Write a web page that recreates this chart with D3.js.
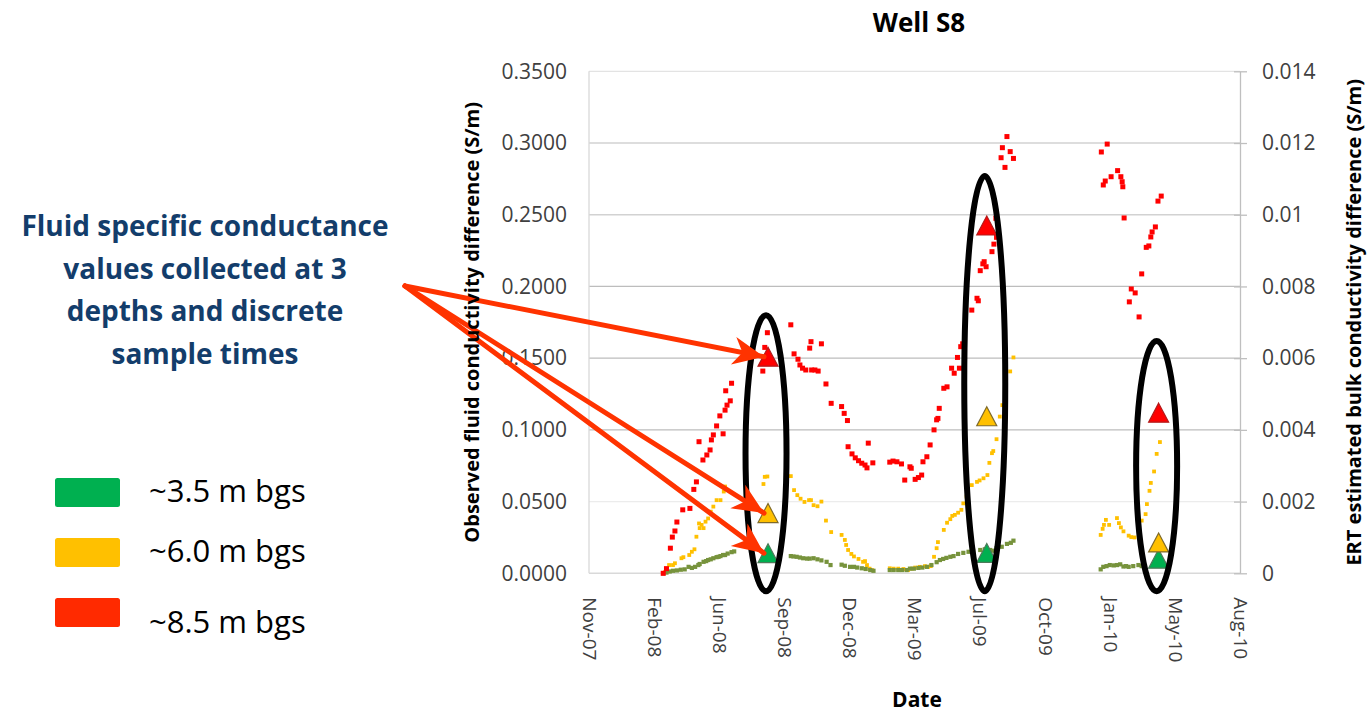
<!DOCTYPE html>
<html>
<head>
<meta charset="utf-8">
<script src="https://cdn.jsdelivr.net/npm/d3@7/dist/d3.min.js"></script>
<style>
  html, body { margin: 0; padding: 0; background: #fff; }
  svg { display: block; }
  text { font-family: "Open Sans", "Noto Sans", sans-serif; }
</style>
</head>
<body>
<svg id="chart" width="1368" height="712"></svg>
<script>
// ---- Data (dates are spreadsheet serial day numbers) ----

// Continuous ERT estimates, bulk conductivity difference (S/m), right axis
const ert35 = [
  [39514,0.00000],[39519,0.00002],[39524,0.00005],[39529,0.00007],[39535,0.00008],[39541,0.00010],
  [39547,0.00011],[39553,0.00018],[39558,0.00015],[39563,0.00018],[39568,0.00023],[39570,0.00026],
  [39576,0.00032],[39580,0.00034],[39583,0.00037],[39587,0.00039],[39591,0.00042],[39596,0.00045],
  [39599,0.00046],[39602,0.00048],[39606,0.00051],[39609,0.00051],[39613,0.00055],[39619,0.00059],
  [39623,0.00061],
  [39710,0.00048],[39714,0.00047],[39719,0.00046],[39724,0.00044],[39729,0.00042],[39735,0.00041],
  [39739,0.00041],[39745,0.00042],[39751,0.00039],[39757,0.00036],[39765,0.00032],[39771,0.00023],
  [39788,0.00024],[39793,0.00021],[39801,0.00018],[39807,0.00018],[39812,0.00016],[39819,0.00014],
  [39825,0.00012],[39832,0.00009],[39837,0.00007],
  [39862,0.00009],[39868,0.00009],[39875,0.00009],[39881,0.00009],[39888,0.00009],[39893,0.00013],
  [39899,0.00013],[39906,0.00015],[39912,0.00016],[39919,0.00018],[39926,0.00023],[39934,0.00031],
  [39939,0.00037],[39944,0.00040],[39949,0.00043],[39955,0.00046],[39960,0.00048],[39967,0.00054],
  [39975,0.00057],[39983,0.00060],[39990,0.00063],[40001,0.00065],[40008,0.00067],[40016,0.00065],
  [40021,0.00063],[40026,0.00070],[40034,0.00074],[40042,0.00082],[40048,0.00085],[40052,0.00091],
  [40186,0.00011],[40190,0.00018],[40195,0.00020],[40200,0.00023],[40206,0.00022],[40211,0.00023],
  [40216,0.00025],[40221,0.00019],[40225,0.00020],[40229,0.00018],[40236,0.00020],[40244,0.00023],
  [40249,0.00020],[40254,0.00020]
];

const ert60 = [
  [39517,0.00004],[39523,0.00023],[39529,0.00023],[39532,0.00028],[39542,0.00042],[39545,0.00045],
  [39554,0.00051],[39558,0.00060],[39562,0.00067],[39565,0.00102],[39569,0.00139],[39570,0.00126],
  [39573,0.00135],[39576,0.00126],[39579,0.00144],[39583,0.00153],[39587,0.00172],[39591,0.00186],
  [39596,0.00204],[39602,0.00204],[39607,0.00228],[39609,0.00242],
  [39668,0.00249],[39670,0.00269],[39674,0.00270],
  [39710,0.00271],[39715,0.00232],[39720,0.00218],[39725,0.00208],[39731,0.00199],[39738,0.00204],
  [39741,0.00204],[39745,0.00190],[39751,0.00187],[39757,0.00200],[39764,0.00147],[39772,0.00115],
  [39788,0.00107],[39793,0.00093],[39795,0.00079],[39798,0.00065],[39803,0.00054],[39807,0.00047],
  [39814,0.00040],[39821,0.00032],[39824,0.00034],[39827,0.00023],[39831,0.00013],[39835,0.00009],
  [39862,0.00014],[39868,0.00013],[39875,0.00013],[39883,0.00012],[39890,0.00009],[39896,0.00013],
  [39901,0.00016],[39908,0.00018],[39916,0.00020],[39921,0.00018],[39925,0.00020],
  [39930,0.00046],[39934,0.00070],[39936,0.00087],[39945,0.00121],[39950,0.00141],[39955,0.00151],
  [39958,0.00160],[39962,0.00163],[39967,0.00169],[39972,0.00177],[39975,0.00195],[39980,0.00214],
  [39981,0.00223],[39988,0.00246],[39996,0.00255],[40000,0.00259],[40006,0.00265],[40012,0.00274],
  [40015,0.00308],[40019,0.00335],[40021,0.00341],[40026,0.00374],[40031,0.00437],[40035,0.00469],
  [40047,0.00563],[40052,0.00602],
  [40186,0.00107],[40189,0.00124],[40191,0.00135],[40194,0.00149],[40199,0.00135],[40211,0.00154],
  [40214,0.00140],[40217,0.00128],[40221,0.00117],[40229,0.00105],[40233,0.00101],[40238,0.00100],
  [40249,0.00147],[40255,0.00165],[40257,0.00193],[40261,0.00230],[40263,0.00252],[40268,0.00284],
  [40272,0.00333],[40277,0.00366]
];

const ert85 = [
  [39514,0.00000],[39519,0.00013],[39525,0.00070],[39528,0.00101],[39532,0.00118],[39535,0.00143],
  [39544,0.00177],[39555,0.00181],[39561,0.00234],[39565,0.00255],[39569,0.00367],[39575,0.00316],
  [39581,0.00330],[39586,0.00344],[39588,0.00372],[39591,0.00386],[39596,0.00411],[39601,0.00439],
  [39606,0.00389],[39609,0.00455],[39610,0.00509],[39612,0.00469],[39617,0.00481],[39619,0.00530],
  [39645,0.00536],[39667,0.00564],[39670,0.00630],[39674,0.00671],[39710,0.00693],
  [39715,0.00612],[39721,0.00597],[39724,0.00581],[39728,0.00572],[39733,0.00567],[39739,0.00628],
  [39741,0.00646],[39742,0.00567],[39747,0.00567],[39752,0.00564],[39757,0.00640],[39764,0.00528],
  [39772,0.00474],[39788,0.00465],[39792,0.00446],[39797,0.00426],[39798,0.00353],[39804,0.00333],
  [39809,0.00322],[39814,0.00314],[39819,0.00307],[39824,0.00302],[39827,0.00294],[39829,0.00363],
  [39836,0.00308],[39862,0.00310],[39867,0.00313],[39873,0.00311],[39880,0.00305],[39885,0.00260],
  [39893,0.00297],[39895,0.00293],[39901,0.00262],[39906,0.00267],[39911,0.00274],[39913,0.00311],
  [39919,0.00325],[39924,0.00358],[39930,0.00400],[39934,0.00428],[39936,0.00432],[39938,0.00460],
  [39945,0.00516],[39950,0.00520],[39957,0.00572],[39961,0.00558],[39966,0.00602],[39969,0.00572],
  [39971,0.00632],[39974,0.00640],[39988,0.00734],[39996,0.00767],[39998,0.00760],[40001,0.00844],
  [40005,0.00863],[40007,0.00869],[40010,0.00855],[40019,0.00897],[40022,0.00918],[40025,0.00990],
  [40026,0.00937],[40033,0.01159],[40035,0.01187],[40039,0.01132],[40042,0.01218],[40047,0.01176],
  [40052,0.01157],
  [40187,0.01175],[40190,0.01083],[40193,0.01094],[40196,0.01197],[40202,0.01106],[40212,0.01123],
  [40217,0.01106],[40219,0.01092],[40220,0.01078],[40222,0.00991],[40230,0.00757],[40233,0.00793],
  [40239,0.00782],[40245,0.00715],[40249,0.00835],[40256,0.00909],[40260,0.00913],[40263,0.00938],
  [40265,0.00952],[40270,0.00966],[40274,0.01038],[40279,0.01052]
];

// Discrete fluid samples, observed fluid conductivity difference (S/m), left axis
const sampleDates = [39675, 40011, 40275];
const sample35 = [0.0140, 0.0142, 0.0102];
const sample60 = [0.0420, 0.1095, 0.0215];
const sample85 = [0.1510, 0.2425, 0.1120];

// Axis ticks
const xTickSerials = [39400, 39500, 39600, 39700, 39800, 39900, 40000, 40100, 40200, 40300, 40400];
const yLeftTicks = [0, 0.05, 0.10, 0.15, 0.20, 0.25, 0.30, 0.35];
const yRightTicks = [0, 0.002, 0.004, 0.006, 0.008, 0.010, 0.012, 0.014];
const yRightLabels = ["0", "0.002", "0.004", "0.006", "0.008", "0.01", "0.012", "0.014"];

// Legend and annotation text
const depthLabels = ["~3.5 m bgs", "~6.0 m bgs", "~8.5 m bgs"];
const noteLines = ["Fluid specific conductance", "values collected at 3", "depths and discrete", "sample times"];
// Ellipse extents around each sampling time (left-axis units)
const ringTop = [0.180, 0.277, 0.162];
const ringBottom = -0.0125;

// ---- Layout ----
const svg = d3.select("#chart");
const plot = { left: 589, right: 1240, top: 71.3, bottom: 573.3 };
const excelEpoch = Date.UTC(1899, 11, 30);
const fromSerial = s => new Date(excelEpoch + s * 864e5);

const x = d3.scaleUtc()
  .domain([fromSerial(39400), fromSerial(40400)])
  .range([plot.left, plot.right]);
const yL = d3.scaleLinear().domain([0, 0.35]).range([plot.bottom, plot.top]);
const yR = d3.scaleLinear().domain([0, 0.014]).range([plot.bottom, plot.top]);

const colors = {
  shallow: "#77933c", mid: "#ffc000", deep: "#ff0000",
  legendGreen: "#00b050", legendYellow: "#ffc000", legendRed: "#ff2a00",
  arrow: "#ff3300", note: "#133d6b"
};

// Gridlines
const gridShade = v => (v === 0.05 ? "#ececec" : (v >= 0.25 ? "#d2d2d2" : "#bdbdbd"));
svg.append("g").selectAll("line")
  .data(yLeftTicks.filter(v => v > 0 && v < 0.35))
  .join("line")
  .attr("x1", plot.left).attr("x2", plot.right)
  .attr("y1", d => yL(d)).attr("y2", d => yL(d))
  .attr("stroke", d => gridShade(+d.toFixed(2))).attr("stroke-width", 1.3);

// Plot frame: top, left, bottom
svg.append("line").attr("x1", plot.left).attr("x2", plot.right)
  .attr("y1", yL(0.35)).attr("y2", yL(0.35)).attr("stroke", "#e3e3e3").attr("stroke-width", 1.3);
svg.append("line").attr("x1", plot.left).attr("x2", plot.left)
  .attr("y1", plot.top).attr("y2", plot.bottom).attr("stroke", "#d9d9d9").attr("stroke-width", 1.3);
svg.append("line").attr("x1", plot.left).attr("x2", plot.right)
  .attr("y1", plot.bottom).attr("y2", plot.bottom).attr("stroke", "#d9d9d9").attr("stroke-width", 1.5);

// Left axis labels
const leftAxis = svg.append("g")
  .attr("transform", `translate(${plot.left},0)`)
  .call(d3.axisLeft(yL).tickValues(yLeftTicks).tickFormat(d3.format(".4f")).tickSize(0).tickPadding(22));
leftAxis.select(".domain").remove();
leftAxis.selectAll("text").attr("font-size", 21).attr("fill", "#404040")
  .attr("font-family", "Open Sans");

// Right axis with crossing ticks
const rightAxis = svg.append("g")
  .attr("transform", `translate(${plot.right},0)`)
  .call(d3.axisRight(yR).tickValues(yRightTicks).tickFormat((d, i) => yRightLabels[i]).tickSizeInner(7).tickSizeOuter(0).tickPadding(15));
rightAxis.select(".domain").attr("stroke", "#bfbfbf").attr("stroke-width", 1.3);
rightAxis.selectAll(".tick line").attr("stroke", "#bfbfbf").attr("stroke-width", 1.3).attr("x1", -6);
rightAxis.selectAll("text").attr("font-size", 21).attr("fill", "#404040")
  .attr("font-family", "Open Sans");

// Bottom axis, labels rotated to read downward
const bottomAxis = svg.append("g")
  .attr("transform", `translate(0,${plot.bottom})`)
  .call(d3.axisBottom(x).tickValues(xTickSerials.map(fromSerial)).tickFormat(d3.utcFormat("%b-%y")).tickSize(0));
bottomAxis.select(".domain").remove();
bottomAxis.selectAll("text")
  .attr("transform", "rotate(90)")
  .attr("x", 24).attr("y", 0).attr("dy", "0.35em")
  .attr("text-anchor", "start")
  .attr("font-size", 19).attr("fill", "#404040")
  .attr("font-family", "Open Sans");

// ERT series (small squares)
function drawSquares(data, color, size) {
  svg.append("g").selectAll("rect")
    .data(data)
    .join("rect")
    .attr("x", d => x(fromSerial(d[0])) - size / 2)
    .attr("y", d => yR(d[1]) - size / 2)
    .attr("width", size).attr("height", size)
    .attr("fill", color);
}
drawSquares(ert60, colors.mid, 3.8);
drawSquares(ert35, colors.shallow, 4.2);
drawSquares(ert85, colors.deep, 5);

// Fluid sample triangles
const tri = "M0,-9.5L10,9.5L-10,9.5Z";
function drawTriangles(values, fill, stroke) {
  svg.append("g").selectAll("path")
    .data(values.map((v, i) => [sampleDates[i], v]))
    .join("path")
    .attr("d", tri)
    .attr("transform", d => `translate(${x(fromSerial(d[0]))},${yL(d[1])})`)
    .attr("fill", fill).attr("stroke", stroke).attr("stroke-width", 1.2);
}
drawTriangles(sample35, "#00b050", "#4d7a5a");
drawTriangles(sample60, "#ffc000", "#7f6a2a");
drawTriangles(sample85, "#ff0000", "#b31a1a");

// Rings around each sampling time
svg.append("g").selectAll("ellipse")
  .data(sampleDates.map((s, i) => ({ s, top: ringTop[i] })))
  .join("ellipse")
  .attr("cx", d => x(fromSerial(d.s)) - 2)
  .attr("cy", d => (yL(d.top) + yL(ringBottom)) / 2)
  .attr("rx", 20.5)
  .attr("ry", d => (yL(ringBottom) - yL(d.top)) / 2)
  .attr("fill", "none").attr("stroke", "#000").attr("stroke-width", 6);

// Callout arrows from the note to the first set of samples
const defs = svg.append("defs");
defs.append("marker")
  .attr("id", "stealth")
  .attr("markerUnits", "userSpaceOnUse")
  .attr("viewBox", "-32 -16 34 32")
  .attr("refX", 0).attr("refY", 0)
  .attr("markerWidth", 34).attr("markerHeight", 32)
  .attr("orient", "auto")
  .append("path")
  .attr("d", "M0,0L-31,-14L-22,0L-31,14Z")
  .attr("fill", colors.arrow);

const arrowFrom = [405, 286];
const firstTargets = [sample85[0], sample60[0], sample35[0]];
svg.append("g").selectAll("line")
  .data(firstTargets)
  .join("line")
  .attr("x1", arrowFrom[0]).attr("y1", arrowFrom[1])
  .attr("x2", x(fromSerial(sampleDates[0])) - 4)
  .attr("y2", d => yL(d))
  .attr("stroke", colors.arrow).attr("stroke-width", 5)
  .attr("stroke-linecap", "round")
  .attr("marker-end", "url(#stealth)");

// Titles
svg.append("text").attr("x", 919).attr("y", 32)
  .attr("text-anchor", "middle").attr("font-weight", "bold").attr("font-size", 26)
  .attr("fill", "#000").text("Well S8");

svg.append("text").attr("x", 917).attr("y", 707)
  .attr("text-anchor", "middle").attr("font-weight", "bold").attr("font-size", 21)
  .attr("fill", "#000").text("Date");

svg.append("text")
  .attr("transform", `translate(479,${(plot.top + plot.bottom) / 2}) rotate(-90)`)
  .attr("text-anchor", "middle").attr("font-weight", "bold").attr("font-size", 20)
  .attr("fill", "#000").text("Observed fluid conductivity difference (S/m)");

svg.append("text")
  .attr("transform", `translate(1361,${(plot.top + plot.bottom) / 2}) rotate(-90)`)
  .attr("text-anchor", "middle").attr("font-weight", "bold").attr("font-size", 20)
  .attr("fill", "#000").text("ERT estimated bulk conductivity difference (S/m)");

// Note text
svg.append("g").selectAll("text")
  .data(noteLines)
  .join("text")
  .attr("x", 205).attr("y", (d, i) => 236 + i * 42.5)
  .attr("text-anchor", "middle").attr("font-weight", "bold").attr("font-size", 28)
  .attr("fill", colors.note).text(d => d);

// Legend
const legendColors = [colors.legendGreen, colors.legendYellow, colors.legendRed];
const legendRows = [478, 538, 598];
const legendBase = [502, 562, 633];
const lg = svg.append("g");
lg.selectAll("rect").data(depthLabels).join("rect")
  .attr("x", 55).attr("y", (d, i) => legendRows[i])
  .attr("width", 65).attr("height", 29).attr("rx", 2.5)
  .attr("fill", (d, i) => legendColors[i]);
lg.selectAll("text").data(depthLabels).join("text")
  .attr("x", 149).attr("y", (d, i) => legendBase[i])
  .attr("font-size", 31).attr("fill", "#000").text(d => d);
</script>
</body>
</html>
